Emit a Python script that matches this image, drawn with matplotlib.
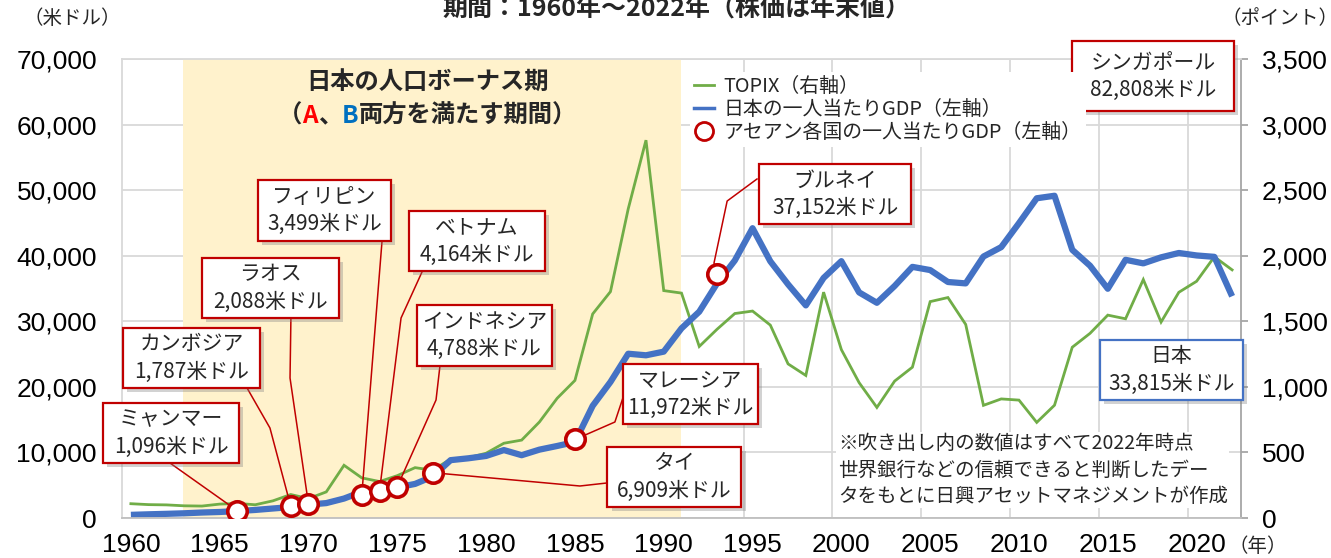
import matplotlib
matplotlib.use("Agg")
import matplotlib.pyplot as plt
from matplotlib.patches import Rectangle
from matplotlib.lines import Line2D
from matplotlib.offsetbox import TextArea, HPacker, AnnotationBbox
from matplotlib import patheffects as pe
from matplotlib.ticker import FuncFormatter

plt.rcParams['font.family'] = ['Noto Sans CJK JP', 'DejaVu Sans']

# ---- data -------------------------------------------------------------------
years = list(range(1960, 2023))

# Japan GDP per capita (USD)
japan_gdp = [
    479, 564, 634, 718, 835, 919, 1059, 1229, 1451, 1669,
    2037, 2272, 2967, 3997, 4354, 4659, 5198, 6335, 8821, 9105,
    9463, 10361, 9578, 10425, 10984, 11585, 17112, 20745, 25052, 24813,
    25371, 28925, 31465, 35766, 39269, 44198, 39150, 35635, 32424, 36611,
    39169, 34406, 32821, 35387, 38299, 37813, 35991, 35779, 39876, 41309,
    44968, 48760, 49145, 40898, 38475, 34961, 39375, 38834, 39751, 40416,
    40040, 39827, 33815,
]

# TOPIX year-end (points)
topix = [
    109, 102, 100, 93, 91, 106, 111, 101, 131, 179,
    148, 199, 402, 306, 278, 323, 384, 364, 450, 460,
    494, 570, 594, 732, 913, 1049, 1556, 1726, 2357, 2881,
    1734, 1715, 1308, 1439, 1559, 1578, 1471, 1175, 1087, 1722,
    1284, 1032, 843, 1044, 1150, 1650, 1681, 1476, 859, 908,
    899, 729, 860, 1302, 1408, 1547, 1519, 1818, 1494, 1721,
    1805, 1992, 1892,
]

# ASEAN GDP per capita in 2022, placed on the year Japan reached that level
asean_names = ["ミャンマー", "カンボジア", "ラオス", "フィリピン", "ベトナム",
               "インドネシア", "タイ", "マレーシア", "ブルネイ"]
asean_gdp = [1096, 1787, 2088, 3499, 4164, 4788, 6909, 11972, 37152]
asean_year = [1966, 1969, 1970, 1973, 1974, 1975, 1977, 1985, 1993]

singapore_gdp = 82808
japan_2022 = 33815

bonus_start, bonus_end = 1962.95, 1990.95

# ---- layout -----------------------------------------------------------------
W, H = 1331, 558
XMIN, XMAX = 1959.5, 2022.5
YMAX = 70000
YR_PER_PX = (XMAX - XMIN) / 1119
VAL_PER_PX = YMAX / 459

# callout boxes: centre (year, value), size in px
box_layout = {
    "ミャンマー": (1962.26, 12960, 136, 60),
    "カンボジア": (1963.41, 24400, 137, 60),
    "ラオス": (1967.86, 35075, 137, 60),
    "フィリピン": (1970.90, 46900, 133, 61),
    "ベトナム": (1979.49, 42240, 136, 60),
    "インドネシア": (1979.90, 27830, 135, 61),
    "タイ": (1990.60, 6250, 134, 60),
    "マレーシア": (1991.50, 18900, 135, 60),
    "ブルネイ": (1999.65, 49400, 152, 60),
}
# leader line bend points, from box side towards marker
leader_layout = {
    "ミャンマー": [(1962.2, 8390)],
    "カンボジア": [(1966.54, 19830), (1967.83, 13725)],
    "ラオス": [(1969.01, 30500), (1968.96, 21350)],
    "フィリピン": [(1974.14, 42240)],
    "ベトナム": [(1976.39, 37520), (1975.21, 30500)],
    "インドネシア": [(1977.40, 23180), (1977.18, 18000)],
    "タイ": [(1986.80, 5340), (1985.28, 4880)],
    "マレーシア": [(1987.70, 18300), (1987.25, 14640)],
    "ブルネイ": [(1995.25, 51700), (1993.57, 48340), (1992.83, 38890)],
}

RED = "#C00000"
BLUE = "#4472C4"
GREEN = "#70AD47"
GRID = "#D9D9D9"
TXT = "#262626"

fig = plt.figure(figsize=(W / 100, H / 100), dpi=100)
ax = fig.add_axes([122 / W, 1 - 518 / H, 1119 / W, 459 / H])
ax2 = ax.twinx()

# ax2 (TOPIX) sits underneath and carries background, grid, shading
ax2.set_zorder(1)
ax.set_zorder(2)
ax.patch.set_visible(False)
ax2.patch.set_facecolor("white")

ax.set_xlim(XMIN, XMAX)
ax.set_ylim(0, YMAX)
ax2.set_ylim(0, YMAX / 20)

ax2.axvspan(bonus_start, bonus_end, color="#FFF2CC", zorder=1, lw=0)
for gx in range(1964, 2020, 5):
    ax2.axvline(gx + 0.5, color=GRID, lw=1.3, zorder=0.5)
ax2.set_yticks(range(0, 3501, 500))
ax2.grid(axis="y", color=GRID, lw=1.3)
ax2.set_axisbelow(True)

ax2.plot(years, topix, color=GREEN, lw=2.0, zorder=3, solid_joinstyle="miter")
ax.plot(years, japan_gdp, color=BLUE, lw=4.5, zorder=2, solid_capstyle="butt")

# leader lines
for name, yr, val in zip(asean_names, asean_year, asean_gdp):
    pts = leader_layout[name] + [(yr, val)]
    ax.plot([p[0] for p in pts], [p[1] for p in pts], color=RED, lw=1.1, zorder=3)

ax.plot(asean_year, asean_gdp, ls="none", marker="o", ms=14, mfc="white",
        mec=RED, mew=2.6, zorder=5)


def callout(cx, cy, w, h, text, edge):
    bw, bh = w * YR_PER_PX, h * VAL_PER_PX
    rect = Rectangle((cx - bw / 2, cy - bh / 2), bw, bh, facecolor="white",
                     edgecolor=edge, lw=1.6, zorder=6, clip_on=False)
    rect.set_path_effects([pe.SimplePatchShadow(offset=(3, -3), shadow_rgbFace="#7f7f7f", alpha=0.35),
                           pe.Normal()])
    ax.add_patch(rect)
    ax.text(cx, cy, text, ha="center", va="center", fontsize=15, color=TXT,
            linespacing=1.3, zorder=7, clip_on=False)


for name, val in zip(asean_names, asean_gdp):
    cx, cy, w, h = box_layout[name]
    callout(cx, cy, w, h, f"{name}\n{val:,}米ドル", RED)

callout(2017.55, 67400, 162, 70, f"シンガポール\n{singapore_gdp:,}米ドル", RED)
callout(2018.60, 22570, 143, 60, f"日本\n{japan_2022:,}米ドル", BLUE)

# demographic bonus label
ax.text(1976.7, 66500, "日本の人口ボーナス期", ha="center", va="center",
        fontsize=17.5, fontweight="bold", color=TXT, zorder=7)
bold = dict(fontsize=17.5, fontweight="bold")
parts = [("（", TXT), ("A", "#FF0000"), ("、", TXT),
         ("B", "#0070C0"), ("両方を満たす期間）", TXT)]
packer = HPacker(children=[TextArea(t, textprops=dict(color=c, **bold)) for t, c in parts],
                 align="baseline", pad=0, sep=0)
ax.add_artist(AnnotationBbox(packer, (1976.7, 61300), frameon=False, box_alignment=(0.5, 0.5),
                             zorder=7))

# note
ax.text(1999.8, 7320,
        "※吹き出し内の数値はすべて2022年時点\n世界銀行などの信頼できると判断したデー\nタをもとに日興アセットマネジメントが作成",
        ha="left", va="center", fontsize=14, color=TXT, linespacing=1.35, zorder=7,
        bbox=dict(facecolor="white", edgecolor="none", pad=1))

# legend
handles = [
    Line2D([], [], color=GREEN, lw=2),
    Line2D([], [], color=BLUE, lw=2.5),
    Line2D([], [], ls="none", marker="o", ms=13, mfc="white", mec=RED, mew=2),
]
labels = ["TOPIX（右軸）", "日本の一人当たりGDP（左軸）", "アセアン各国の一人当たりGDP（左軸）"]
leg = ax.legend(handles, labels, loc="upper left", bbox_to_anchor=(680 / W, 1 - 62 / H),
                bbox_transform=fig.transFigure, fontsize=14.3, handlelength=1.0,
                handletextpad=0.5, labelspacing=0.1, borderpad=0.2, frameon=True,
                fancybox=False, framealpha=1, edgecolor="none", facecolor="white")
leg.set_zorder(8)
for t in leg.get_texts():
    t.set_color(TXT)

# axes styling
ax.set_xticks(range(1960, 2021, 5))
ax.set_yticks(range(0, 70001, 10000))
ax.yaxis.set_major_formatter(FuncFormatter(lambda v, p: f"{int(v):,}"))
ax2.yaxis.set_major_formatter(FuncFormatter(lambda v, p: f"{int(v):,}"))
ax.tick_params(axis="y", length=0, pad=18, labelsize=19, labelfontfamily="Liberation Sans")
ax.tick_params(axis="x", length=0, pad=11, labelsize=19, labelfontfamily="Liberation Sans")
ax2.tick_params(axis="y", length=5, width=1.3, color="#A6A6A6", pad=10, labelsize=19,
                labelfontfamily="Liberation Sans")

for sp in ax2.spines.values():
    sp.set_visible(False)
ax.spines["left"].set_color(GRID)
ax.spines["top"].set_color(GRID)
ax.spines["bottom"].set_color("#BFBFBF")
ax.spines["right"].set_color("#A6A6A6")
for sp in ax.spines.values():
    sp.set_linewidth(1.3)

# titles and unit labels
fig.text(676 / W, 1 - 9 / H, "期間：1960年～2022年（株価は年末値）", ha="center", va="center",
         fontsize=18, fontweight="bold", color=TXT)
fig.text(72 / W, 1 - 19 / H, "（米ドル）", ha="center", va="center", fontsize=14, color=TXT)
fig.text(1280 / W, 1 - 19 / H, "（ポイント）", ha="center", va="center", fontsize=14, color=TXT)
fig.text(1258 / W, 1 - 547 / H, "（年）", ha="center", va="center", fontsize=14, color=TXT)

fig.savefig("out.png", dpi=100)
